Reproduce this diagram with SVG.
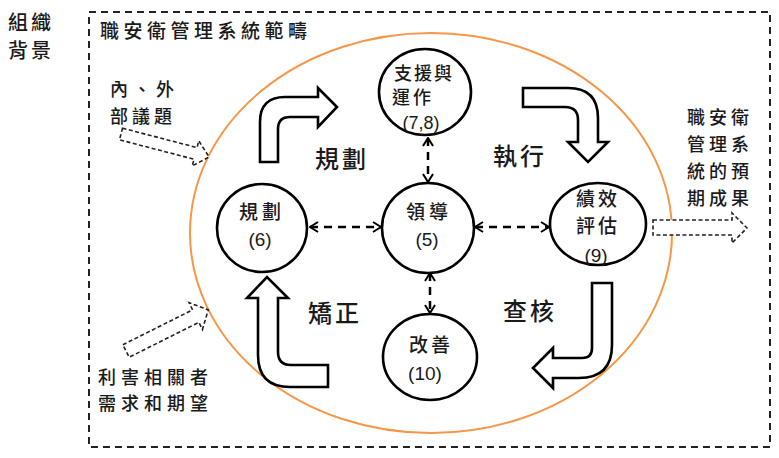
<svg xmlns="http://www.w3.org/2000/svg" width="779" height="458" viewBox="0 0 779 458">
<style>
.cjk{font-family:"Noto Sans CJK TC","Noto Sans CJK SC",sans-serif;fill:#1a1a1a;font-weight:500;}
.num{font-family:"Liberation Sans","Noto Sans",sans-serif;fill:#1a1a1a;}
.node{fill:#fff;stroke:#000;stroke-width:2.6;}
.block{fill:#fff;stroke:#000;stroke-width:2.6;stroke-linejoin:miter;}
.dblock{fill:#fff;stroke:#222;stroke-width:1.6;stroke-dasharray:4,2.5;}
.conn{fill:none;stroke:#000;stroke-width:2.5;stroke-dasharray:8,6;}
</style>
<defs>
<marker id="chev" viewBox="0 0 10 12" refX="9" refY="6" markerWidth="10" markerHeight="12" markerUnits="userSpaceOnUse" orient="auto-start-reverse">
<path d="M1,1 L9,6 L1,11" fill="none" stroke="#000" stroke-width="2"/>
</marker>
</defs>
<rect width="779" height="458" fill="#fff"/>
<g id="scope">
<rect x="89" y="12" width="681" height="435" fill="none" stroke="#222" stroke-width="2" stroke-dasharray="7,5"/>
<text class="cjk" x="100" y="38" font-size="19" letter-spacing="4.5">職安衛管理系統範疇</text>
</g>
<g id="context">
<text class="cjk" x="8" y="30" font-size="20" letter-spacing="3">組織</text>
<text class="cjk" x="8" y="58" font-size="20" letter-spacing="3">背景</text>
</g>
<g id="ellipse">
<ellipse cx="431" cy="233" rx="241" ry="200" fill="none" stroke="#F79646" stroke-width="2"/>
</g>
<g id="issues">
<text class="cjk" x="110" y="96" font-size="18" letter-spacing="5">內、外</text>
<text class="cjk" x="110" y="123" font-size="18" letter-spacing="4">部議題</text>
<path class="dblock" transform="translate(121,134) rotate(14.6)" d="M0,-6 L77,-6 L77,-13 L91,0 L77,13 L77,6 L0,6 Z"/>
</g>
<g id="stakeholders">
<text class="cjk" x="98" y="384" font-size="18" letter-spacing="5">利害相關者</text>
<text class="cjk" x="98" y="410" font-size="18" letter-spacing="5">需求和期望</text>
<path class="dblock" transform="translate(126,351) rotate(-26.6)" d="M0,-7 L78,-7 L78,-15 L92,0 L78,15 L78,7 L0,7 Z"/>
</g>
<g id="outcome">
<text class="cjk" x="687" y="124" font-size="18" letter-spacing="4">職安衛</text>
<text class="cjk" x="687" y="151" font-size="18" letter-spacing="4">管理系</text>
<text class="cjk" x="687" y="178" font-size="18" letter-spacing="4">統的預</text>
<text class="cjk" x="687" y="205" font-size="18" letter-spacing="4">期成果</text>
<path class="dblock" d="M653,220 L732,220 L732,213 L747,228 L732,243 L732,235 L653,235 Z"/>
</g>
<g id="connectors">
<line class="conn" x1="310" y1="227" x2="381" y2="227" marker-start="url(#chev)" marker-end="url(#chev)"/>
<line class="conn" x1="475" y1="227" x2="549" y2="227" marker-start="url(#chev)" marker-end="url(#chev)"/>
<line class="conn" x1="428" y1="138" x2="428" y2="182" marker-start="url(#chev)" marker-end="url(#chev)"/>
<line class="conn" x1="430" y1="273" x2="430" y2="313" marker-start="url(#chev)" marker-end="url(#chev)"/>
</g>
<g id="flow-arrows">
<path class="block" d="M260,162 L260,122 Q260,97 285,97 L318,97 L318,88 L337,107 L318,127 L318,117 L290,117 Q278,117 278,129 L278,162 Z"/>
<path class="block" d="M523,88 L568,88 Q598,88 598,118 L598,142 L608,142 L588,162 L568,142 L578,142 L578,120 Q578,107 565,107 L523,107 Z"/>
<path class="block" d="M592,283 L612,283 L612,345 Q612,378 579,378 L553,378 L553,388 L533,368 L553,348 L553,358 L582,358 Q592,358 592,348 Z"/>
<path class="block" d="M258,298 L247,298 L267,277 L288,298 L278,298 L278,352 Q278,365 291,365 L328,365 L328,387 L290,387 Q258,387 258,355 Z"/>
<text class="cjk" x="315" y="168" font-size="24" letter-spacing="3">規劃</text>
<text class="cjk" x="493" y="165" font-size="24" letter-spacing="3">執行</text>
<text class="cjk" x="503" y="320" font-size="24" letter-spacing="3">查核</text>
<text class="cjk" x="308" y="322" font-size="24" letter-spacing="3">矯正</text>
</g>
<g id="node-support">
<ellipse class="node" cx="425" cy="92" rx="46" ry="43"/>
<text class="cjk" x="394" y="80" font-size="18" letter-spacing="2">支援與</text>
<text class="cjk" x="392" y="104" font-size="18" letter-spacing="3">運作</text>
<text class="num" x="421" y="129" font-size="18" text-anchor="middle">(7,8)</text>
</g>
<g id="node-plan">
<ellipse class="node" cx="262" cy="228" rx="45" ry="44"/>
<text class="cjk" x="262" y="219" font-size="19" text-anchor="middle" letter-spacing="4">規劃</text>
<text class="num" x="260" y="246" font-size="19" text-anchor="middle">(6)</text>
</g>
<g id="node-leadership">
<ellipse class="node" cx="428" cy="228" rx="46" ry="45"/>
<text class="cjk" x="429" y="219" font-size="19" text-anchor="middle" letter-spacing="4">領導</text>
<text class="num" x="427" y="246" font-size="19" text-anchor="middle">(5)</text>
</g>
<g id="node-evaluation">
<ellipse class="node" cx="598" cy="224" rx="48" ry="41"/>
<text class="cjk" x="598" y="206" font-size="19" text-anchor="middle" letter-spacing="3">績效</text>
<text class="cjk" x="598" y="233" font-size="19" text-anchor="middle" letter-spacing="3">評估</text>
<text class="num" x="596" y="262" font-size="19" text-anchor="middle">(9)</text>
</g>
<g id="node-improvement">
<ellipse class="node" cx="430" cy="357" rx="47" ry="43"/>
<text class="cjk" x="431" y="352" font-size="19" text-anchor="middle" letter-spacing="3">改善</text>
<text class="num" x="425" y="380" font-size="19" text-anchor="middle">(10)</text>
</g>
</svg>
